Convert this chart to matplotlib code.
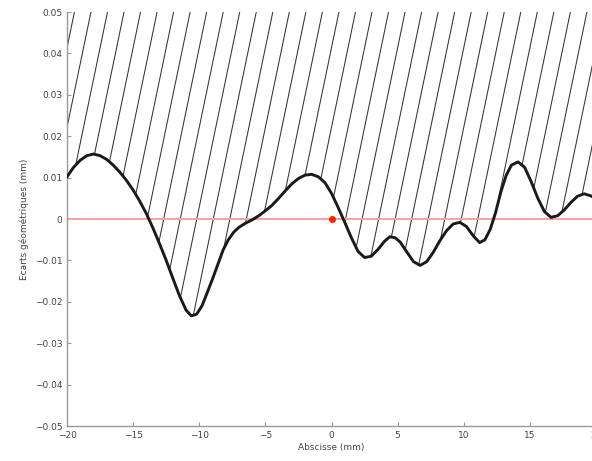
import numpy as np
import matplotlib
matplotlib.use('Agg')
import matplotlib.pyplot as plt
from matplotlib.patches import Polygon

# profile (mm, mm)
x = [-20.0, -19.5, -19.0, -18.5, -18.0, -17.5, -17.0, -16.5, -16.0, -15.5,
     -15.0, -14.5, -14.0, -13.5, -13.0, -12.5, -12.0, -11.5, -11.0, -10.6,
     -10.2, -9.8, -9.4, -9.0, -8.6, -8.2, -7.8, -7.4, -7.0, -6.5,
     -6.0, -5.5, -5.0, -4.5, -4.0, -3.5, -3.0, -2.5, -2.0, -1.5,
     -1.0, -0.5, 0.0, 0.5, 1.0, 1.5, 2.0, 2.5, 3.0, 3.5,
     4.0, 4.4, 4.8, 5.2, 5.7, 6.2, 6.7, 7.2, 7.7, 8.2,
     8.7, 9.2, 9.7, 10.2, 10.7, 11.2, 11.6, 12.0, 12.4, 12.8,
     13.2, 13.6, 14.1, 14.6, 15.1, 15.6, 16.1, 16.6, 17.1, 17.6,
     18.1, 18.6, 19.1, 19.6, 20.0]
y = [0.0102, 0.0125, 0.0142, 0.0153, 0.0157, 0.0153, 0.0144, 0.0130, 0.0113, 0.0093,
     0.0070, 0.0043, 0.0013, -0.0022, -0.0060, -0.0100, -0.0143, -0.0185, -0.0220, -0.0234,
     -0.0230, -0.0210, -0.0178, -0.0145, -0.0110, -0.0075, -0.0050, -0.0032, -0.0020, -0.0010,
     -0.0002, 0.0008, 0.0020, 0.0033, 0.0050, 0.0068, 0.0085, 0.0098, 0.0106, 0.0108,
     0.0102, 0.0088, 0.0062, 0.0028, -0.0008, -0.0045, -0.0078, -0.0093, -0.0090, -0.0074,
     -0.0054, -0.0043, -0.0045, -0.0056, -0.0080, -0.0103, -0.0112, -0.0103, -0.0080, -0.0052,
     -0.0028, -0.0012, -0.0008, -0.0018, -0.0040, -0.0057, -0.0050, -0.0025, 0.0015, 0.0065,
     0.0105, 0.0130, 0.0138, 0.0125, 0.0090, 0.0050, 0.0018, 0.0004, 0.0008, 0.0022,
     0.0040, 0.0055, 0.0061, 0.0056, 0.0050]

xticks = [-20, -15, -10, -5, 0, 5, 10, 15, 20]
yticks = [-0.05, -0.04, -0.03, -0.02, -0.01, 0, 0.01, 0.02, 0.03, 0.04, 0.05]
ytick_labels = ['\u22120.05', '\u22120.04', '\u22120.03', '\u22120.02', '\u22120.01', '0',
                '0.01', '0.02', '0.03', '0.04', '0.05']
xtick_labels = ['\u221220', '\u221215', '\u221210', '\u22125', '0', '5', '10', '15', '20']

fig = plt.figure(figsize=(5.92, 4.61), dpi=100)
ax = fig.add_axes([0.1132, 0.0759, 0.8936, 0.898])

ymax = 0.05
# hatched region between the profile and the top
verts = list(zip(x, y)) + [(x[-1], ymax), (x[0], ymax)]
region = Polygon(verts, closed=True, facecolor='none', edgecolor='none')
ax.add_patch(region)

x_start = -19.44
spacing = 1.25
shift = 6.5  # mm of horizontal shift over the full y range
for x0 in np.arange(x_start - 2 * spacing, 30, spacing):
    ln, = ax.plot([x0, x0 - shift], [ymax, -ymax], color='#333333', lw=0.75)
    ln.set_clip_path(region)

ax.axhline(0, color='#f6a3a3', lw=1.5, zorder=2)
ax.plot(x, y, color='#1a1a1a', lw=2.1, zorder=3, solid_joinstyle='round')
ax.plot([0], [0], 'o', color='#ff2200', ms=5, mec='none', zorder=4)

ax.set_xlim(-20, 20)
ax.set_ylim(-0.05, 0.05)
ax.set_xticks(xticks)
ax.set_xticklabels(xtick_labels)
ax.set_yticks(yticks)
ax.set_yticklabels(ytick_labels)

ax.spines['top'].set_visible(False)
ax.spines['right'].set_visible(False)
for s in ['left', 'bottom']:
    ax.spines[s].set_color('#999999')
    ax.spines[s].set_linewidth(1.0)
ax.tick_params(direction='in', length=3, width=0.8, colors='#999999',
               labelcolor='#444444', labelsize=6.5)

ax.set_xlabel('Abscisse (mm)', fontsize=6.5, color='#444444', labelpad=2)
ax.set_ylabel('Ecarts g\u00e9om\u00e9triques (mm)', fontsize=6.5, color='#444444', labelpad=4)

fig.savefig('out.png', dpi=100)
